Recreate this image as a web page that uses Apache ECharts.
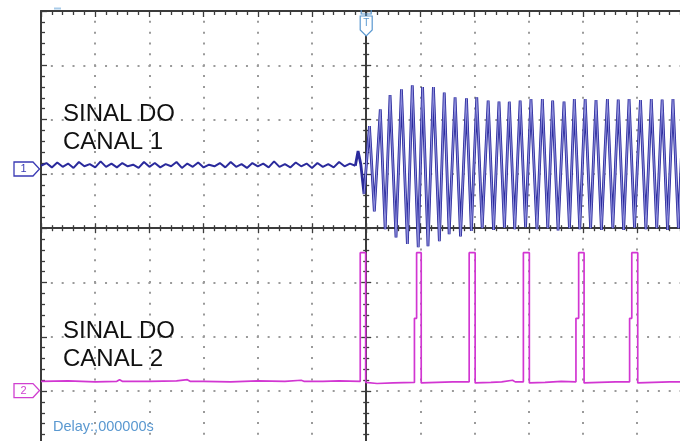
<!DOCTYPE html>
<html><head><meta charset="utf-8">
<script src="https://cdn.jsdelivr.net/npm/echarts@6.0.0/dist/echarts.min.js"></script>
<style>html,body{margin:0;padding:0;background:#fff}#c{width:680px;height:441px}</style>
</head><body><div id="c"></div>
<script>
// time in divisions (0 = trigger), voltage in divisions (0 = screen centre)
const ch1BaseTime = [-6.0,-5.9,-5.8,-5.7,-5.6,-5.5,-5.4,-5.3,-5.2,-5.1,
  -5.0,-4.9,-4.8,-4.7,-4.6,-4.5,-4.4,-4.3,-4.2,-4.1,
  -4.0,-3.9,-3.8,-3.7,-3.6,-3.5,-3.4,-3.3,-3.2,-3.1,
  -3.0,-2.9,-2.8,-2.7,-2.6,-2.5,-2.4,-2.3,-2.2,-2.1,
  -2.0,-1.9,-1.8,-1.7,-1.6,-1.5,-1.4,-1.3,-1.2,-1.1,
  -1.0,-0.9,-0.8,-0.7,-0.6,-0.5,-0.4,-0.3,-0.2];
const ch1BaseVolt = [1.15,1.20,1.12,1.21,1.13,1.19,1.11,1.22,1.14,1.18,
  1.12,1.23,1.13,1.19,1.12,1.20,1.14,1.17,1.11,1.22,
  1.13,1.20,1.12,1.18,1.14,1.22,1.11,1.19,1.13,1.21,
  1.12,1.17,1.14,1.20,1.12,1.22,1.13,1.18,1.11,1.20,
  1.14,1.19,1.12,1.23,1.13,1.18,1.12,1.21,1.14,1.19,
  1.11,1.20,1.13,1.18,1.12,1.22,1.14,1.19,1.15];
const ch1OscTime = [-0.15,-0.10,-0.04,0.06,0.15,0.26,0.35,0.44,0.55,0.65,
  0.76,0.85,0.96,1.04,1.14,1.24,1.35,1.44,1.53,1.64,
  1.74,1.85,1.94,2.04,2.14,2.25,2.35,2.45,2.55,2.64,
  2.74,2.84,2.94,3.04,3.15,3.25,3.35,3.44,3.54,3.65,
  3.75,3.84,3.94,4.04,4.14,4.24,4.34,4.45,4.55,4.65,
  4.75,4.85,4.95,5.06,5.16,5.26,5.36,5.46,5.56,5.66,
  5.76,5.86];
const ch1OscVolt = [1.42,1.18,0.63,1.88,0.31,2.19,-0.02,2.45,-0.17,2.56,
  -0.29,2.63,-0.35,2.60,-0.33,2.60,-0.24,2.50,-0.11,2.41,
  -0.15,2.39,-0.05,2.41,0.00,2.35,-0.03,2.33,0.01,2.33,
  -0.02,2.35,0.02,2.38,-0.02,2.38,0.00,2.35,-0.04,2.33,
  0.00,2.38,-0.02,2.38,0.00,2.36,-0.03,2.38,0.00,2.37,
  -0.03,2.38,0.01,2.36,-0.02,2.38,0.00,2.37,-0.03,2.38,
  0.00,2.37];
const ch2Time = [-6.0,-5.5,-5.0,-4.6,-4.55,-4.5,-4.0,-3.5,-3.3,-3.25,-3.0,-2.5,-2.0,-1.5,-1.2,-1.15,-0.8,-0.5,-0.11,
  -0.11,-0.01,-0.01,0.2,0.5,0.89,
  0.89,0.93,0.93,1.015,1.015,1.3,1.6,1.90,
  1.90,2.01,2.01,2.3,2.5,2.7,2.75,2.90,
  2.90,3.01,3.01,3.3,3.6,3.87,
  3.87,3.92,3.92,4.02,4.02,4.3,4.6,4.86,
  4.86,4.90,4.90,5.01,5.01,5.3,5.6,5.9];
const ch2Volt = [-2.82,-2.81,-2.83,-2.82,-2.79,-2.82,-2.82,-2.81,-2.79,-2.82,-2.82,-2.83,-2.81,-2.82,-2.80,-2.82,-2.82,-2.81,-2.82,
  -0.45,-0.45,-2.84,-2.86,-2.85,-2.84,
  -1.66,-1.66,-0.45,-0.45,-2.85,-2.84,-2.83,-2.83,
  -0.45,-0.45,-2.85,-2.84,-2.83,-2.80,-2.83,-2.83,
  -0.45,-0.45,-2.85,-2.84,-2.82,-2.83,
  -1.66,-1.66,-0.45,-0.45,-2.85,-2.84,-2.83,-2.83,
  -1.66,-1.66,-0.45,-0.45,-2.85,-2.84,-2.83,-2.83];
const ch1Ref = 1.09, ch2Ref = -2.99;
const label1 = 'SINAL DO\nCANAL 1';
const label2 = 'SINAL DO\nCANAL 2';
const delayText = 'Delay:,000000s';

const chart = echarts.init(document.getElementById('c'), null, {renderer:'canvas', width:680, height:441});
const gc = '#3b3b3b';
const dots = {show:true, lineStyle:{color:'#9a9a9a', width:2, type:[2, 8.84], dashOffset:1}};
function ax(pos, onZero, inside, isX, split){
  return {type:'value', min: isX?-6:-4, max: isX?6:4, interval:1, position:pos,
    axisLine:{show:true, onZero:onZero, onZeroAxisIndex:0, lineStyle:{color:gc, width:2}},
    axisTick:{show:true, inside:inside, length:onZero?5:6, lineStyle:{color:gc, width:1.3}},
    minorTick:{show:true, splitNumber:5, length:onZero?3:4, lineStyle:{color:gc, width:1.3}},
    axisLabel:{show:false}, splitLine: split?dots:{show:false}, z: 1};
}
const pair = (ts, vs) => ts.map((t,i)=>[t, vs[i]]);
const ch1Base = pair(ch1BaseTime, ch1BaseVolt);
const ch1OscAll = [ch1Base[ch1Base.length-1]].concat(pair(ch1OscTime, ch1OscVolt));
const ch1OscCore = pair(ch1OscTime, ch1OscVolt).filter(p=>p[0] >= -0.05);

chart.setOption({
  animation:false,
  backgroundColor:'#ffffff',
  grid:{left:41, top:11, width:650.4, height:434.4, containLabel:false, outerBoundsMode:'none'},
  xAxis:[ax('top', false, true, true, true), ax('bottom', true, true, true, false), ax('bottom', true, false, true, false)],
  yAxis:[ax('left', false, true, false, true), ax('left', true, true, false, false), ax('left', true, false, false, false)],
  series:[
    {type:'line', data:ch1Base, showSymbol:false, symbol:'none', lineStyle:{color:'#2a2a9c', width:2}, z:3},
    {type:'line', data:ch1OscAll, showSymbol:false, symbol:'none', lineStyle:{color:'#2a2a9c', width:2.8}, z:3},
    {type:'line', data:ch1OscCore, showSymbol:false, symbol:'none', lineStyle:{color:'#8e8edc', width:1.1}, z:4},
    {type:'line', data:pair(ch2Time, ch2Volt), showSymbol:false, symbol:'none', lineStyle:{color:'#d236d2', width:1.7}, z:3}
  ]
});

const y1 = chart.convertToPixel({yAxisIndex:0}, ch1Ref);
const y2 = chart.convertToPixel({yAxisIndex:0}, ch2Ref);
const xT = chart.convertToPixel({xAxisIndex:0}, 0);
const xL = chart.convertToPixel({xAxisIndex:0}, -6);
function marker(y, color, txt){
  return [
    {type:'polygon', shape:{points:[[xL-27,y-7],[xL-8,y-7],[xL-1.5,y],[xL-8,y+7],[xL-27,y+7]]}, style:{fill:'#fff', stroke:color, lineWidth:1.3}, z:10},
    {type:'text', x:xL-17.5, y:y, style:{text:txt, fill:color, font:'11px "Liberation Sans", Arial, sans-serif', align:'center', verticalAlign:'middle'}, z:11}
  ];
}
const lb = '#5a98d0';
chart.setOption({graphic:[
  ...marker(y1, '#3a3ab4', '1'),
  ...marker(y2, '#d040d0', '2'),
  {type:'polyline', shape:{points:[[xT-5,10],[xT-5,14],[xT+5,14],[xT+5,10]]}, style:{stroke:lb, lineWidth:1.2, fill:null}, z:10},
  {type:'polygon', shape:{points:[[xT-6,16],[xT+6,16],[xT+6,30],[xT,36],[xT-6,30]]}, style:{fill:'#fff', stroke:lb, lineWidth:1.2}, z:10},
  {type:'text', x:xT, y:23, style:{text:'T', fill:lb, font:'10px "Liberation Sans", Arial, sans-serif', align:'center', verticalAlign:'middle'}, z:11},
  {type:'rect', shape:{x:xL+13, y:7.5, width:7, height:2}, style:{fill:'#a8cbe8'}, z:10},
  {type:'text', x:63, y:100.3, style:{text:label1, fill:'#111', font:'24px "Liberation Sans", Arial, sans-serif', lineHeight:28, verticalAlign:'top'}, z:12},
  {type:'text', x:63, y:317.7, style:{text:label2, fill:'#111', font:'24px "Liberation Sans", Arial, sans-serif', lineHeight:28, verticalAlign:'top'}, z:12},
  {type:'text', x:53, y:426.7, style:{text:delayText, fill:lb, font:'14.5px "Liberation Sans", Arial, sans-serif', verticalAlign:'middle'}, z:12}
]});
</script></body></html>
